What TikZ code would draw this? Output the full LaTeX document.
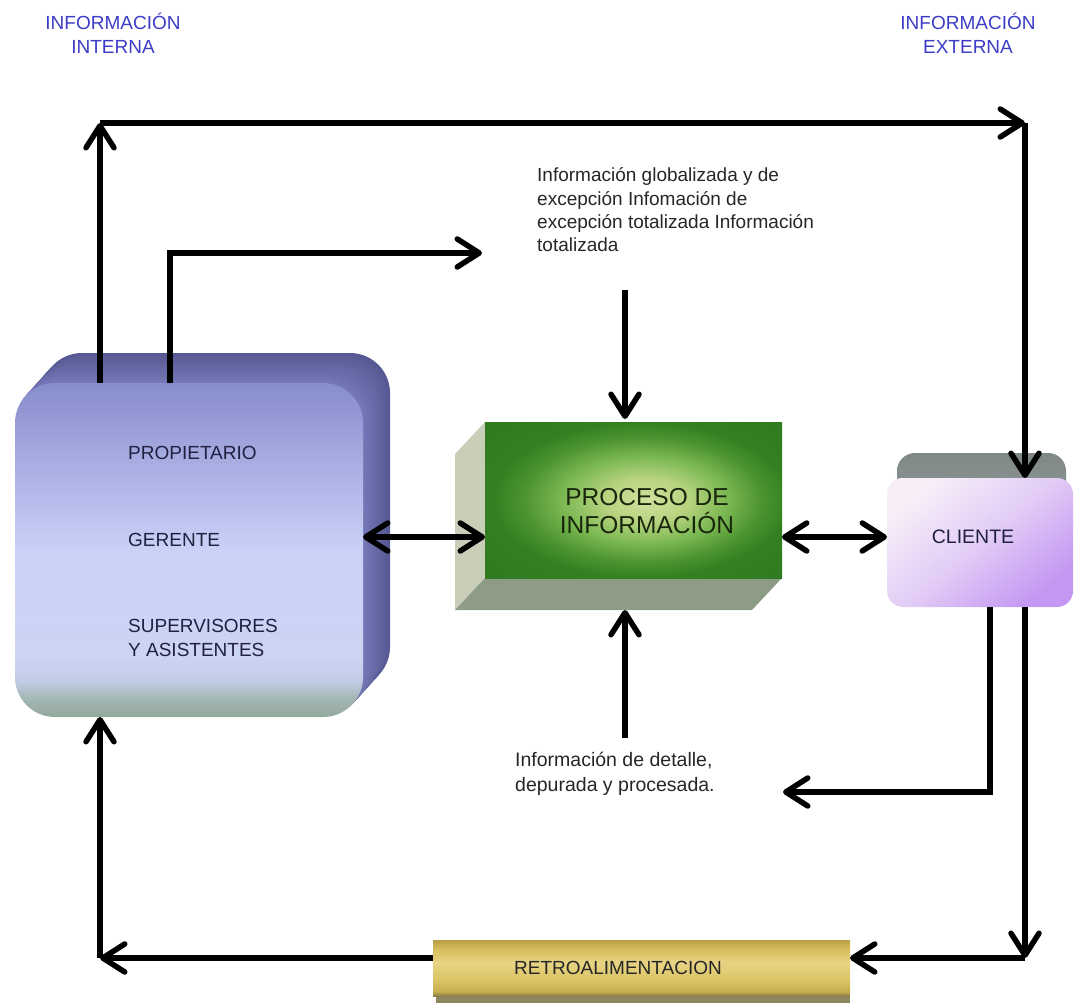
\documentclass[tikz,border=0pt]{standalone}
\usepackage{fontspec}
\setmainfont{Liberation Sans}
\usetikzlibrary{arrows.meta,calc}

% face shadings (the path's box covers the 25bp--75bp band of each shading)
\pgfdeclareverticalshading{ownerface}{100bp}{rgb(0bp)=(0.58,0.66,0.61); rgb(25bp)=(0.58,0.66,0.61); rgb(27.5bp)=(0.63,0.71,0.69); rgb(30.5bp)=(0.76,0.80,0.90); rgb(34bp)=(0.80,0.83,0.96); rgb(50bp)=(0.79,0.82,0.97); rgb(61bp)=(0.68,0.70,0.90); rgb(75bp)=(0.53,0.55,0.80); rgb(100bp)=(0.53,0.55,0.80)}
\pgfdeclareradialshading{procface}{\pgfpoint{2.5bp}{0bp}}{rgb(0bp)=(0.82,0.88,0.62); rgb(7bp)=(0.72,0.83,0.50); rgb(14bp)=(0.48,0.72,0.32); rgb(20bp)=(0.30,0.58,0.19); rgb(25bp)=(0.20,0.50,0.13); rgb(50bp)=(0.17,0.45,0.11)}
\pgfdeclareverticalshading{retroface}{100bp}{rgb(0bp)=(0.55,0.50,0.30); rgb(25bp)=(0.55,0.50,0.30); rgb(29bp)=(0.78,0.68,0.30); rgb(40bp)=(0.86,0.77,0.40); rgb(55bp)=(0.91,0.83,0.52); rgb(67bp)=(0.84,0.74,0.36); rgb(75bp)=(0.72,0.62,0.26); rgb(100bp)=(0.72,0.62,0.26)}
\pgfdeclareverticalshading{clientback}{100bp}{rgb(0bp)=(0.66,0.68,0.68); rgb(25bp)=(0.66,0.68,0.68); rgb(75bp)=(0.50,0.53,0.53); rgb(100bp)=(0.50,0.53,0.53)}

\definecolor{ownerdark}{RGB}{86,88,146}
\definecolor{ownerlight}{RGB}{118,121,184}
\definecolor{labelblue}{RGB}{60,60,200}
\definecolor{ownertext}{RGB}{32,32,64}
\definecolor{proctext}{RGB}{25,38,12}
\definecolor{procleft}{RGB}{200,206,184}
\definecolor{procbottom}{RGB}{142,156,134}
\definecolor{retroshadow}{RGB}{140,135,95}

\tikzset{
  box/.style={inner sep=0pt, outer sep=0pt, draw=none},
  flow/.style={line width=5.5pt, -{Straight Barb[length=22pt,width=28pt,round]}},
  twoway/.style={line width=5.5pt, {Straight Barb[length=22pt,width=28pt,round]}-{Straight Barb[length=22pt,width=28pt,round]}},
  caption/.style={inner sep=0pt, font=\fontsize{19}{23.3}\selectfont, align=left, anchor=west},
}

\begin{document}
\begin{tikzpicture}[x=1pt,y=-1pt]
\useasboundingbox (0,0) rectangle (1074,1003);

% headings
\node[inner sep=0pt, align=center, text=labelblue, font=\fontsize{19}{24}\selectfont] (hint) at (113,33) {INFORMACIÓN\\INTERNA};
\node[inner sep=0pt, align=center, text=labelblue, font=\fontsize{19}{24}\selectfont] (hext) at (968,33) {INFORMACIÓN\\EXTERNA};

% owner block: extruded back (darker toward the rear), then front face
\foreach \t in {30,29,...,1}{
  \pgfmathtruncatemacro{\p}{100*\t/30}
  \fill[ownerdark!\p!ownerlight, rounded corners=40pt] ($(15,383)+(0.9*\t,-\t)$) rectangle ++(348,334);
}
\node[box, rounded corners=40pt, minimum width=348pt, minimum height=334pt, shading=ownerface] (owner) at (189,550) {};
\node[caption, text=ownertext] (tprop) at (128,453) {PROPIETARIO};
\node[caption, text=ownertext] (tger) at (128,540) {GERENTE};
\node[caption, text=ownertext, font=\fontsize{19}{24}\selectfont] (tsup) at (128,638) {SUPERVISORES\\Y ASISTENTES};

% process block: side faces, then front face
\fill[procleft] (485,422) -- (455,454) -- (455,610) -- (485,578) -- cycle;
\fill[procbottom] (485,578) -- (782,578) -- (752,610) -- (455,610) -- cycle;
\node[box, minimum width=297pt, minimum height=156pt, shading=procface] (proc) at (633.5,500) {};
\node[inner sep=0pt, align=center, text=proctext, font=\fontsize{24.5}{28}\selectfont] (tproc) at (647,511) {PROCESO DE\\INFORMACIÓN};
\coordinate (procbase) at (625,610);

% client block
\node[box, rounded corners=18pt, minimum width=169pt, minimum height=137pt, shading=clientback] (clientbk) at (981.5,521.5) {};
\node[box, rounded corners=16pt, minimum width=186pt, minimum height=129pt,
      top color={rgb,255:red,248;green,238;blue,248}, bottom color={rgb,255:red,196;green,152;blue,242},
      middle color={rgb,255:red,226;green,204;blue,246}, shading angle=40] (client) at (980,542.5) {};
\node[inner sep=0pt, text=ownertext, font=\fontsize{19.5}{23}\selectfont] (tcli) at (973,537) {CLIENTE};

% feedback bar
\fill[retroshadow] (436,990) rectangle (850,1003);
\node[box, minimum width=417pt, minimum height=56pt, shading=retroface] (retro) at (641.5,968) {};
\node[inner sep=0pt, text=black!85, font=\fontsize{19}{23}\selectfont] (tretro) at (618,968) {RETROALIMENTACION};

% captions
\node[caption, text=black!85] (tglob) at (537,210) {Información globalizada y de\\excepción Infomación de\\excepción totalizada Información\\totalizada};
\node[caption, text=black!85, font=\fontsize{19.5}{25}\selectfont] (tdet) at (515,774) {Información de detalle,\\depurada y procesada.};

% routing points
\coordinate (ctl) at (100,123);
\coordinate (ctr) at (1025,123);
\coordinate (cmid) at (170,253);
\coordinate (cmidend) at (482,253);
\coordinate (cin) at (625,290);
\coordinate (cout) at (625,738);
\coordinate (row) at (0,537);
\coordinate (cdet) at (990,792);
\coordinate (cdetend) at (783,792);
\coordinate (cfb) at (1025,958);
\coordinate (cbl) at (100,958);

% connectors
\draw[flow] (owner.north -| ctl) -- (ctl);
\draw[flow] (ctl) -- (ctr);
\draw[flow] (ctr) -- (client.north -| ctr);
\draw[flow] (owner.north -| cmid) -- (cmid) -- (cmidend);
\draw[flow] (cin) -- ($(proc.north -| cin)+(0,-3)$);
\draw[flow] (cout) -- (procbase);
\draw[twoway] (owner.east |- row) -- (proc.west |- row);
\draw[twoway] (proc.east |- row) -- (client.west |- row);
\draw[flow] (client.south -| cdet) -- (cdet) -- (cdetend);
\draw[flow] (client.south -| cfb) -- (cfb);
\draw[flow] (cfb) -- (retro.east |- cfb);
\draw[flow] (retro.west |- cbl) -- (cbl);
\draw[flow] (cbl) -- (owner.south -| cbl);
\end{tikzpicture}
\end{document}
